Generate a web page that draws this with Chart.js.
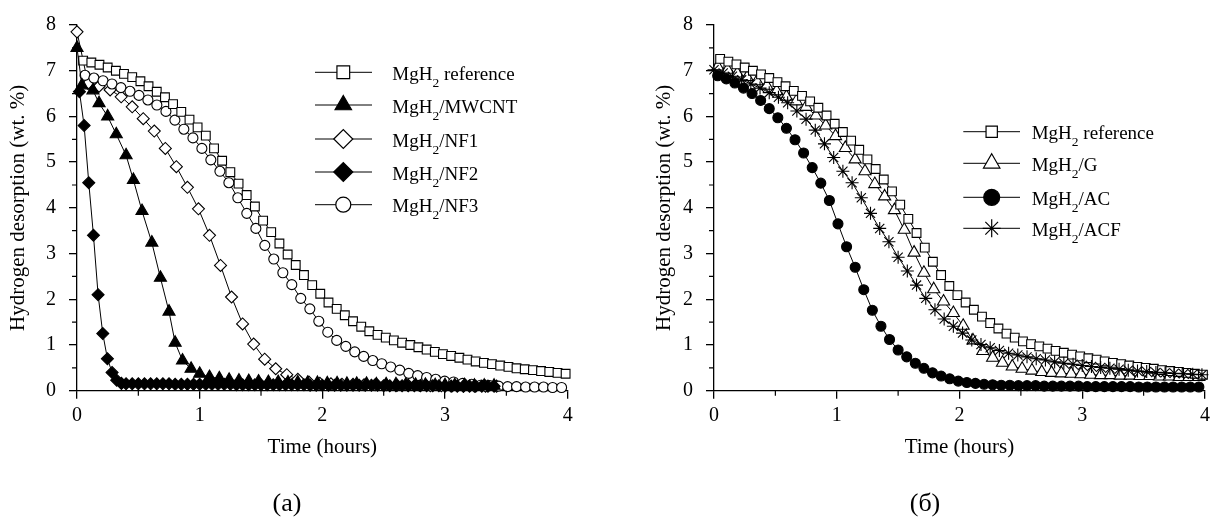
<!DOCTYPE html>
<html>
<head>
<meta charset="utf-8">
<script src="https://cdn.jsdelivr.net/npm/chart.js@4.4.0/dist/chart.umd.min.js"></script>
<style>
  html, body { margin: 0; padding: 0; background: #fff; width: 1215px; height: 519px; overflow: hidden; }
  canvas { position: absolute; top: 0; }
  #panelA { left: 0; }
  #panelB { left: 607px; }
  .cap { position: absolute; top: 488px; width: 100px; text-align: center;
         font-family: "Liberation Serif", "Times New Roman", serif; font-size: 26px; line-height: 30px; color: #000; }
</style>
</head>
<body>
<canvas id="panelA" width="607" height="519"></canvas>
<canvas id="panelB" width="608" height="519"></canvas>
<div class="cap" style="left:237px">(a)</div>
<div class="cap" style="left:875px">(б)</div>
<script>
// ---- axis ticks ----
const xTicks = [0, 1, 2, 3, 4];
const yTicks = [0, 1, 2, 3, 4, 5, 6, 7, 8];
const xTitle = 'Time (hours)';
const yTitle = 'Hydrogen desorption (wt. %)';

// ---- panel (a): series names ----
const namesA = ['MgH2 reference', 'MgH2/MWCNT', 'MgH2/NF1', 'MgH2/NF2', 'MgH2/NF3'];

// sampling times (hours) and desorbed hydrogen (wt. %)
const timeRef = [0.050,0.117,0.183,0.250,0.317,0.383,0.450,0.517,0.583,0.650,
                 0.717,0.783,0.850,0.917,0.983,1.050,1.117,1.183,1.250,1.317,
                 1.383,1.450,1.517,1.583,1.650,1.717,1.783,1.850,1.917,1.983,
                 2.050,2.117,2.183,2.250,2.317,2.383,2.450,2.517,2.583,2.650,
                 2.717,2.783,2.850,2.917,2.983,3.050,3.117,3.183,3.250,3.317,
                 3.383,3.450,3.517,3.583,3.650,3.717,3.783,3.850,3.917,3.983];
const refA = [7.22,7.18,7.13,7.07,7.00,6.93,6.86,6.77,6.66,6.54,
              6.42,6.27,6.10,5.93,5.76,5.58,5.30,5.03,4.78,4.53,
              4.28,4.03,3.72,3.47,3.22,2.98,2.75,2.53,2.31,2.12,
              1.93,1.79,1.65,1.52,1.40,1.30,1.22,1.16,1.10,1.05,
              1.00,0.95,0.90,0.85,0.80,0.76,0.72,0.68,0.64,0.61,
              0.58,0.55,0.52,0.49,0.47,0.45,0.43,0.41,0.39,0.37];

const timeMWCNT = [0,0.04,0.13,0.18,0.25,0.32,0.40,0.46,0.53,0.61,0.68,0.75,0.80,0.86,0.93,1.00,1.08,
                   1.16,1.24,1.32,1.40,1.48,1.56,1.64,1.72,1.80,1.88,1.96,2.04,2.12,2.20,2.28,2.36,
                   2.44,2.52,2.60,2.68,2.76,2.84,2.92,3.00,3.08,3.16,3.24,3.32,3.40];
const mwcnt = [7.50,6.68,6.57,6.29,6.00,5.61,5.15,4.61,3.93,3.24,2.47,1.73,1.05,0.66,0.48,0.37,0.30,
               0.27,0.24,0.22,0.21,0.20,0.19,0.19,0.18,0.18,0.17,0.17,0.16,0.16,0.15,0.15,0.15,
               0.14,0.14,0.14,0.13,0.13,0.13,0.12,0.12,0.12,0.12,0.11,0.11,0.11];

const timeNF1 = [0,0.09,0.18,0.27,0.36,0.45,0.54,0.63,0.72,0.81,0.90,0.99,1.08,1.17,1.26,1.35,1.44,1.53,1.62,1.71,
                 1.80,1.89,1.98,2.07,2.16,2.25,2.34,2.43,2.52,2.61,2.70,2.79,2.88,2.97,3.06,3.15,3.24,3.33,3.42];
const nf1 = [7.85,6.72,6.66,6.58,6.43,6.21,5.95,5.68,5.30,4.90,4.45,3.98,3.40,2.74,2.05,1.46,1.02,0.69,0.48,0.35,
             0.25,0.19,0.16,0.15,0.14,0.14,0.13,0.13,0.13,0.12,0.12,0.12,0.11,0.11,0.11,0.10,0.10,0.10,0.10];

const timeNF2 = [0.02,0.058,0.096,0.134,0.172,0.21,0.248,0.286,0.324,0.362,
                 0.40,0.45,0.50,0.55,0.60,0.65,0.70,0.75,0.80,0.85,0.90,0.95,1.00,1.05,1.10,1.15,1.20,1.25,1.30,1.35,
                 1.40,1.45,1.50,1.55,1.60,1.65,1.70,1.75,1.80,1.85,1.90,1.95,2.00,2.05,2.10,2.15,2.20,2.25,2.30,2.35,
                 2.40,2.45,2.50,2.55,2.60,2.65,2.70,2.75,2.80,2.85,2.90,2.95,3.00,3.05,3.10,3.15,3.20,3.25,3.30,3.35,3.40];
const nf2 = [6.54,5.80,4.55,3.40,2.10,1.25,0.70,0.40,0.23,0.16,
             0.15,0.15,0.15,0.15,0.15,0.15,0.15,0.15,0.14,0.14,0.14,0.14,0.14,0.14,0.14,0.14,0.14,0.14,0.13,0.13,
             0.13,0.13,0.13,0.13,0.13,0.13,0.13,0.13,0.13,0.13,0.12,0.12,0.12,0.12,0.12,0.12,0.12,0.12,0.12,0.12,
             0.12,0.12,0.11,0.11,0.11,0.11,0.11,0.11,0.11,0.11,0.11,0.11,0.10,0.10,0.10,0.10,0.10,0.10,0.10,0.10,0.10];

const timeNF3 = [0.065,0.138,0.212,0.285,0.358,0.432,0.505,0.578,0.651,0.725,
                 0.798,0.871,0.945,1.018,1.091,1.165,1.238,1.311,1.384,1.458,
                 1.531,1.604,1.678,1.751,1.824,1.898,1.971,2.044,2.117,2.191,
                 2.264,2.337,2.411,2.484,2.557,2.631,2.704,2.777,2.850,2.924,
                 2.997,3.070,3.144,3.217,3.290,3.364,3.437,3.510,3.583,3.657,
                 3.730,3.803,3.877,3.950];
const nf3 = [6.90,6.84,6.78,6.71,6.63,6.55,6.46,6.36,6.25,6.11,
             5.92,5.72,5.53,5.30,5.05,4.80,4.55,4.22,3.88,3.55,
             3.18,2.88,2.58,2.32,2.02,1.79,1.52,1.28,1.10,0.97,
             0.85,0.75,0.66,0.59,0.52,0.45,0.38,0.33,0.29,0.25,
             0.21,0.19,0.16,0.14,0.12,0.11,0.10,0.09,0.09,0.08,
             0.08,0.08,0.07,0.07];

// ---- panel (б): series names ----
const namesB = ['MgH2 reference', 'MgH2/G', 'MgH2/AC', 'MgH2/ACF'];

const refB = [7.26,7.20,7.14,7.07,7.00,6.92,6.84,6.75,6.66,6.56,
              6.45,6.33,6.19,6.02,5.84,5.66,5.47,5.27,5.06,4.85,
              4.62,4.36,4.07,3.76,3.45,3.13,2.82,2.53,2.29,2.09,
              1.93,1.77,1.62,1.48,1.36,1.25,1.16,1.08,1.02,0.97,
              0.92,0.87,0.83,0.79,0.75,0.71,0.68,0.64,0.61,0.58,
              0.55,0.52,0.50,0.48,0.45,0.43,0.41,0.39,0.37,0.35];

const timeG = [0.03,0.11,0.19,0.27,0.35,0.43,0.51,0.59,0.67,0.75,0.83,0.91,0.99,1.07,1.15,1.23,1.31,1.39,1.47,1.55,
               1.63,1.71,1.79,1.87,1.95,2.03,2.11,2.19,2.27,2.35,2.43,2.51,2.59,2.67,2.75,2.83,2.91,2.99,3.07,3.15,
               3.23,3.31,3.39,3.47,3.55,3.63,3.71,3.79,3.87,3.95];
const gB = [7.09,7.02,6.94,6.86,6.77,6.67,6.55,6.43,6.33,6.21,
            6.02,5.80,5.57,5.31,5.06,4.80,4.52,4.25,3.95,3.52,
            3.02,2.58,2.22,1.95,1.70,1.42,1.10,0.87,0.72,0.61,
            0.53,0.48,0.44,0.41,0.39,0.38,0.37,0.36,0.35,0.34,
            0.34,0.33,0.33,0.32,0.32,0.31,0.31,0.30,0.30,0.30];

const timeAC = [0.03,0.10,0.17,0.24,0.31,0.38,0.45,0.52,0.59,0.66,0.73,0.80,0.87,0.94,1.01,1.08,1.15,1.22,1.29,1.36,
                1.43,1.50,1.57,1.64,1.71,1.78,1.85,1.92,1.99,2.06,2.13,2.20,2.27,2.34,2.41,2.48,2.55,2.62,2.69,2.76,
                2.83,2.90,2.97,3.04,3.11,3.18,3.25,3.32,3.39,3.46,3.53,3.60,3.67,3.74,3.81,3.88,3.95];
const ac = [6.89,6.82,6.73,6.62,6.50,6.35,6.17,5.97,5.74,5.49,
            5.20,4.88,4.54,4.16,3.65,3.15,2.70,2.21,1.76,1.41,
            1.12,0.89,0.74,0.60,0.49,0.39,0.32,0.26,0.21,0.18,
            0.16,0.14,0.13,0.12,0.12,0.11,0.11,0.11,0.10,0.10,
            0.10,0.10,0.10,0.09,0.09,0.09,0.09,0.09,0.09,0.08,
            0.08,0.08,0.08,0.08,0.08,0.08,0.08];

const timeACF = [0,0.075,0.15,0.225,0.30,0.375,0.45,0.525,0.60,0.675,0.75,0.825,0.90,0.975,1.05,1.125,1.20,1.275,
                 1.35,1.425,1.50,1.575,1.65,1.725,1.80,1.875,1.95,2.025,2.10,2.175,2.25,2.325,2.40,2.475,2.55,2.625,
                 2.70,2.775,2.85,2.925,3.00,3.075,3.15,3.225,3.30,3.375,3.45,3.525,3.60,3.675,3.75,3.825,3.90,3.975];
const acf = [7.02,6.95,6.88,6.80,6.71,6.62,6.52,6.42,6.30,6.12,
             5.94,5.70,5.40,5.10,4.80,4.55,4.22,3.88,3.55,3.26,
             2.92,2.62,2.31,2.02,1.77,1.57,1.41,1.26,1.11,1.01,
             0.94,0.88,0.82,0.78,0.74,0.70,0.67,0.63,0.60,0.58,
             0.55,0.53,0.51,0.49,0.47,0.45,0.43,0.42,0.40,0.39,
             0.38,0.37,0.36,0.35];

// ---- drawing helpers ----
const SERIF = '"Liberation Serif", "Times New Roman", serif';
const pairs = (ts, vs) => ts.map((t, i) => ({ x: t, y: vs[i] }));
const halves = ticks => ticks.slice(1).map((v, i) => (v + ticks[i]) / 2);

function series(label, ts, vs, style, radius, fill, order) {
  return {
    label, data: pairs(ts, vs), order,
    borderColor: '#000', borderWidth: 1, tension: 0, fill: false, clip: false,
    pointStyle: style, pointRadius: radius,
    pointBackgroundColor: fill, pointBorderColor: '#000', pointBorderWidth: 1.1
  };
}

// short unlabelled marks half-way between labelled ticks
const minorTicks = {
  id: 'minorTicks',
  afterDraw(chart) {
    const { ctx, scales: { x, y } } = chart;
    ctx.save();
    ctx.strokeStyle = '#000';
    ctx.lineWidth = 1.2;
    ctx.beginPath();
    halves(xTicks).forEach(v => {
      const px = x.getPixelForValue(v);
      ctx.moveTo(px, y.bottom); ctx.lineTo(px, y.bottom + 5);
    });
    halves(yTicks).forEach(v => {
      const py = y.getPixelForValue(v);
      ctx.moveTo(x.left, py); ctx.lineTo(x.left - 5, py);
    });
    ctx.stroke();
    ctx.restore();
  }
};

// key: line + marker + name with subscript "2"
const seriesKey = {
  id: 'seriesKey',
  afterDraw(chart, args, o) {
    const ctx = chart.ctx;
    chart.data.datasets.forEach((ds, i) => {
      const y = o.rows[i];
      ctx.save();
      ctx.strokeStyle = '#000';
      ctx.lineWidth = 1;
      ctx.beginPath(); ctx.moveTo(o.lineFrom, y); ctx.lineTo(o.lineTo, y); ctx.stroke();
      ctx.fillStyle = ds.pointBackgroundColor;
      ctx.strokeStyle = '#000';
      ctx.lineWidth = 1.2;
      Chart.helpers.drawPoint(ctx, { pointStyle: ds.pointStyle, rotation: 0, radius: o.radii[i], borderWidth: 1.2 }, o.marker, y);
      // text
      const name = ds.label;
      const head = name.slice(0, 3), sub = name.slice(3, 4), rest = name.slice(4);
      ctx.fillStyle = '#000';
      ctx.textBaseline = 'alphabetic';
      ctx.textAlign = 'left';
      let tx = o.text;
      const base = y + 7.7;
      ctx.font = '19px ' + SERIF;
      ctx.fillText(head, tx, base);
      tx += ctx.measureText(head).width;
      ctx.font = '13.5px ' + SERIF;
      ctx.fillText(sub, tx, base + 7);
      tx += ctx.measureText(sub).width;
      ctx.font = '19px ' + SERIF;
      ctx.fillText(rest, tx, base);
      ctx.restore();
    });
  }
};

function scales(yWidth) {
  const common = {
    type: 'linear',
    border: { display: true, color: '#000', width: 1.3 },
    grid: { drawOnChartArea: false, drawTicks: true, tickLength: 8, color: '#000', lineWidth: 1.3 },
    title: { display: true, color: '#000', font: { family: SERIF, size: 21 }, padding: 0 }
  };
  return {
    x: {
      ...common, min: 0, max: 4,
      afterBuildTicks: s => { s.ticks = xTicks.map(v => ({ value: v })); },
      afterFit: s => { s.height = 68.9; },
      ticks: { color: '#000', font: { family: SERIF, size: 20 }, padding: 5, autoSkip: false, maxRotation: 0 },
      title: { ...common.title, text: xTitle }
    },
    y: {
      ...common, min: 0, max: 8,
      afterBuildTicks: s => { s.ticks = yTicks.map(v => ({ value: v })); },
      afterFit: s => { s.width = yWidth; },
      ticks: { color: '#000', font: { family: SERIF, size: 20 }, padding: 13, autoSkip: false },
      title: { ...common.title, text: yTitle }
    }
  };
}

function makeChart(id, datasets, pad, yWidth, key) {
  return new Chart(document.getElementById(id), {
    type: 'line',
    data: { datasets },
    options: {
      responsive: false,
      animation: false,
      layout: { padding: pad },
      scales: scales(yWidth),
      plugins: { legend: { display: false }, tooltip: { enabled: false }, seriesKey: key }
    },
    plugins: [minorTicks, seriesKey]
  });
}

makeChart('panelA', [
  series(namesA[0], timeRef,   refA,  'rect',     6.2, '#fff', 2),
  series(namesA[1], timeMWCNT, mwcnt, 'triangle', 7,   '#000', 0),
  series(namesA[2], timeNF1,   nf1,   'rectRot',  6,   '#fff', 4),
  series(namesA[3], timeNF2,   nf2,   'rectRot',  6,   '#000', 1),
  series(namesA[4], timeNF3,   nf3,   'circle',   5,   '#fff', 3)
], { left: 5.9, right: 39.3, top: 16.5, bottom: 59.4 }, 71.1, {
  rows: [72.3, 105, 139, 172, 204.7],
  lineFrom: 315, lineTo: 372, marker: 343.3, text: 392.3,
  radii: [9, 9.5, 9.5, 9.5, 7.5]
});

makeChart('panelB', [
  series(namesB[0], timeRef, refB, 'rect',     6.2, '#fff', 2),
  series(namesB[1], timeG,   gB,   'triangle', 7,   '#fff', 3),
  series(namesB[2], timeAC,  ac,   'circle',   5,   '#000', 1),
  series(namesB[3], timeACF, acf,  'star',     6.5, '#000', 0)
], { left: 44.4, right: 8, top: 19, bottom: 59.4 }, 62.6, {
  rows: [131.7, 163.3, 197.3, 228.3],
  lineFrom: 963.3 - 607, lineTo: 1020 - 607, marker: 991.7 - 607, text: 1031.7 - 607,
  radii: [8, 9.5, 8, 9]
});
</script>
</body>
</html>
